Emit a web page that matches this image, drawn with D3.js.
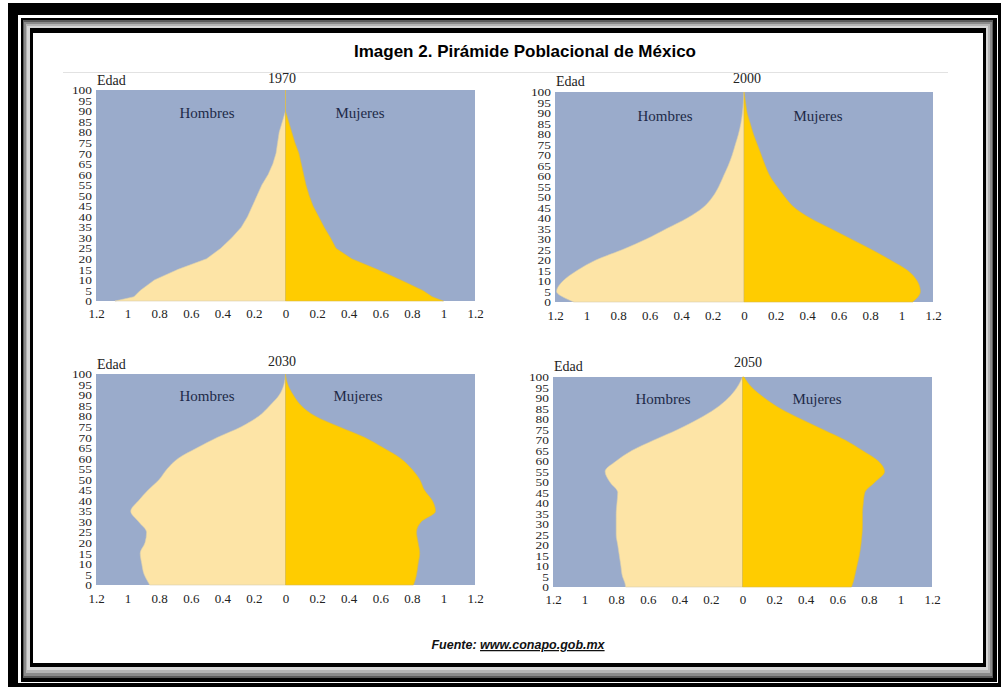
<!DOCTYPE html>
<html>
<head>
<meta charset="utf-8">
<script src="https://cdn.jsdelivr.net/npm/d3@7"></script>
<style>
  html, body { margin: 0; padding: 0; background: #fff; }
  svg { display: block; }
</style>
</head>
<body>
<svg id="chart" width="1004" height="687"></svg>
<script>
// ---------- DATA (population in millions per single year of age) ----------
const ages = [0, 2, 5, 10, 15, 20, 25, 30, 35, 40, 45, 50, 55, 60, 65, 70, 75, 80, 85, 90, 95, 100];

const male1970   = [1.08, 0.96, 0.92, 0.83, 0.68, 0.50, 0.41, 0.34, 0.28, 0.24, 0.21, 0.18, 0.15, 0.11, 0.08, 0.06, 0.05, 0.04, 0.02, 0.00, 0.00, 0.00];
const female1970 = [1.00, 0.93, 0.87, 0.73, 0.58, 0.42, 0.32, 0.285, 0.245, 0.21, 0.175, 0.15, 0.13, 0.115, 0.10, 0.085, 0.06, 0.04, 0.02, 0.00, 0.00, 0.00];

const male2000   = [1.08, 1.14, 1.19, 1.15, 1.06, 0.94, 0.77, 0.62, 0.49, 0.36, 0.26, 0.20, 0.16, 0.13, 0.10, 0.075, 0.055, 0.035, 0.02, 0.01, 0.004, 0.00];
const female2000 = [1.07, 1.10, 1.12, 1.10, 1.04, 0.93, 0.81, 0.68, 0.55, 0.42, 0.32, 0.26, 0.21, 0.165, 0.135, 0.11, 0.085, 0.06, 0.04, 0.02, 0.01, 0.00];

const male2030   = [0.86, 0.875, 0.895, 0.91, 0.92, 0.89, 0.88, 0.93, 0.98, 0.93, 0.87, 0.80, 0.75, 0.68, 0.56, 0.43, 0.28, 0.17, 0.10, 0.04, 0.01, 0.00];
const female2030 = [0.81, 0.82, 0.83, 0.84, 0.85, 0.84, 0.83, 0.86, 0.95, 0.93, 0.88, 0.85, 0.80, 0.73, 0.62, 0.50, 0.34, 0.19, 0.10, 0.05, 0.015, 0.00];

const male2050   = [0.74, 0.745, 0.76, 0.77, 0.78, 0.79, 0.80, 0.80, 0.80, 0.795, 0.79, 0.84, 0.87, 0.80, 0.70, 0.56, 0.41, 0.28, 0.17, 0.09, 0.035, 0.00];
const female2050 = [0.69, 0.70, 0.71, 0.725, 0.74, 0.75, 0.757, 0.76, 0.76, 0.765, 0.775, 0.84, 0.90, 0.86, 0.76, 0.65, 0.51, 0.37, 0.24, 0.14, 0.06, 0.01];

const years = ["1970", "2000", "2030", "2050"];
const xTickValues = [-1.2, -1, -0.8, -0.6, -0.4, -0.2, 0, 0.2, 0.4, 0.6, 0.8, 1, 1.2];
const yTickValues = d3.range(0, 101, 5);
const titleText = "Imagen 2. Pirámide Poblacional de México";
const sourceLabel = "Fuente: ";
const sourceUrl = "www.conapo.gob.mx";
const maleLabel = "Hombres", femaleLabel = "Mujeres", ageLabel = "Edad";

// ---------- LAYOUT ----------
const layouts = [
  {left: 96,  right: 475, top: 90,  bottom: 301, yearX: 282, yearBase: 83,  edadBase: 85,  sexBase: 118, homX: 207, mujX: 360, xLabBase: 318},
  {left: 555, right: 933, top: 92,  bottom: 302, yearX: 747, yearBase: 83,  edadBase: 86,  sexBase: 121, homX: 665, mujX: 818, xLabBase: 320},
  {left: 96,  right: 475, top: 374, bottom: 585, yearX: 282, yearBase: 366, edadBase: 369, sexBase: 401, homX: 207, mujX: 358, xLabBase: 603},
  {left: 553, right: 932, top: 377, bottom: 587, yearX: 748, yearBase: 367, edadBase: 371, sexBase: 404, homX: 663, mujX: 817, xLabBase: 604}
];
const series = [
  {male: male1970, female: female1970, curve: d3.curveLinear},
  {male: male2000, female: female2000, curve: d3.curveMonotoneY},
  {male: male2030, female: female2030, curve: d3.curveMonotoneY},
  {male: male2050, female: female2050, curve: d3.curveMonotoneY}
];

const COL_BG = "#9aabcb", COL_M = "#fde4a6", COL_F = "#ffcc00", COL_LAB = "#1d2a48";
const SERIF = "'Liberation Serif', 'Times New Roman', serif";
const SANS = "'Liberation Sans', Arial, sans-serif";

const svg = d3.select("#chart");

// ---------- FRAME ----------
const frame = [
  {x0: 8,  y0: 3,  x1: 1001, y1: 687, fill: "#000"},
  {x0: 18, y0: 15, x1: 998,  y1: 683, fill: "#fff"},
  {x0: 21, y0: 18, x1: 997,  y1: 682, fill: "#000"},
  {x0: 23, y0: 20, x1: 993,  y1: 678, fill: "#5a5a5a"},
  {x0: 24, y0: 22, x1: 992,  y1: 676, fill: "#8a8a8a"},
  {x0: 26, y0: 24, x1: 990,  y1: 673, fill: "#b4b4b4"},
  {x0: 27, y0: 26, x1: 988,  y1: 670, fill: "#d6d6d6"},
  {x0: 30, y0: 28, x1: 986,  y1: 667, fill: "#000"},
  {x0: 33, y0: 33, x1: 983,  y1: 663, fill: "#fff"}
];
svg.selectAll("rect.frame").data(frame).join("rect")
  .attr("class", "frame")
  .attr("x", d => d.x0).attr("y", d => d.y0)
  .attr("width", d => d.x1 - d.x0).attr("height", d => d.y1 - d.y0)
  .attr("fill", d => d.fill);

// faint border line of the embedded chart picture
svg.append("line").attr("x1", 63).attr("x2", 948).attr("y1", 72.5).attr("y2", 72.5)
  .attr("stroke", "#e2e2e2").attr("stroke-width", 1);

// ---------- TITLE ----------
svg.append("text")
  .attr("x", 525).attr("y", 57)
  .attr("text-anchor", "middle")
  .attr("font-family", SANS).attr("font-weight", "bold").attr("font-size", 17)
  .attr("fill", "#000")
  .text(titleText);

// ---------- PANELS ----------
years.forEach((yr, i) => {
  const L = layouts[i], S = series[i];
  const g = svg.append("g");
  const x = d3.scaleLinear().domain([-1.2, 1.2]).range([L.left, L.right]);
  const y = d3.scaleLinear().domain([0, 100]).range([L.bottom, L.top]);

  g.append("rect")
    .attr("x", x(-1.2)).attr("y", y(100))
    .attr("width", x(1.2) - x(-1.2)).attr("height", y(0) - y(100))
    .attr("fill", COL_BG);

  const rows = ages.map((a, k) => ({age: a, m: S.male[k], f: S.female[k]}));

  const maleArea = d3.area().curve(S.curve)
    .y(d => y(d.age)).x0(x(0)).x1(d => x(-d.m));
  const femaleArea = d3.area().curve(S.curve)
    .y(d => y(d.age)).x0(x(0)).x1(d => x(d.f));

  g.append("path").datum(rows).attr("d", maleArea)
    .attr("fill", COL_M).attr("stroke", "#d9cfae").attr("stroke-width", 0.6);
  g.append("path").datum(rows).attr("d", femaleArea)
    .attr("fill", COL_F).attr("stroke", "#d6b84a").attr("stroke-width", 0.6);

  // x axis
  const fmt = d => String(+Math.abs(d).toFixed(1));
  const xAxis = g.append("g")
    .attr("transform", `translate(0,${L.xLabBase})`)
    .call(d3.axisBottom(x).tickValues(xTickValues).tickFormat(fmt).tickSize(0).tickPadding(0));
  xAxis.select(".domain").remove();
  xAxis.selectAll("text")
    .attr("y", 0).attr("dy", 0)
    .attr("font-family", SERIF).attr("font-size", 13).attr("fill", "#222");

  // y axis (labels widened horizontally like the original)
  const yAxis = g.append("g")
    .attr("transform", `translate(${L.left - 4},0)`)
    .call(d3.axisLeft(y).tickValues(yTickValues).tickSize(0).tickPadding(0));
  yAxis.select(".domain").remove();
  yAxis.selectAll("text")
    .attr("x", 0).attr("y", 0).attr("dy", "0.34em")
    .attr("font-family", SERIF).attr("font-size", 11).attr("fill", "#222")
    .attr("transform", "scale(1.22,1)");

  // labels
  g.append("text").attr("x", L.left + 1).attr("y", L.edadBase)
    .attr("font-family", SERIF).attr("font-size", 14).attr("fill", "#222").text(ageLabel);
  g.append("text").attr("x", L.yearX).attr("y", L.yearBase).attr("text-anchor", "middle")
    .attr("font-family", SERIF).attr("font-size", 14).attr("fill", "#222").text(yr);
  g.append("text").attr("x", L.homX).attr("y", L.sexBase).attr("text-anchor", "middle")
    .attr("font-family", SERIF).attr("font-size", 15).attr("fill", COL_LAB).text(maleLabel);
  g.append("text").attr("x", L.mujX).attr("y", L.sexBase).attr("text-anchor", "middle")
    .attr("font-family", SERIF).attr("font-size", 15).attr("fill", COL_LAB).text(femaleLabel);
});

// ---------- SOURCE ----------
const src = svg.append("text")
  .attr("x", 518).attr("y", 649).attr("text-anchor", "middle")
  .attr("font-family", SANS).attr("font-weight", "bold").attr("font-style", "italic")
  .attr("font-size", 12.5).attr("fill", "#111");
src.append("tspan").text(sourceLabel);
src.append("tspan").attr("text-decoration", "underline").text(sourceUrl);
</script>
</body>
</html>
